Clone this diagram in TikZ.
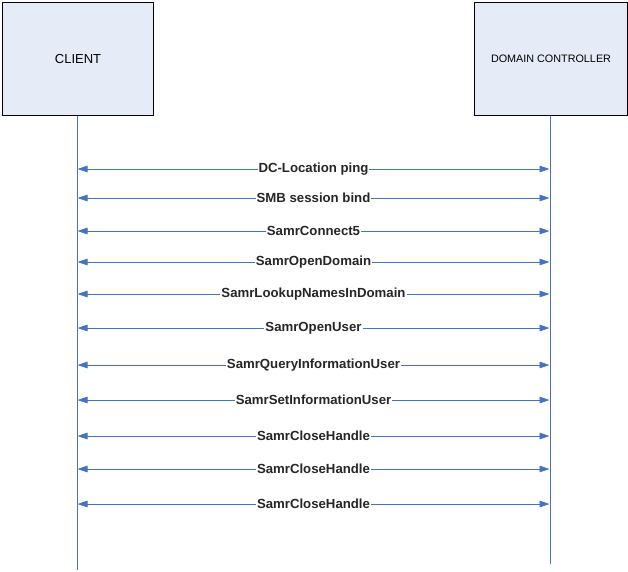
\documentclass[tikz,border=0pt]{standalone}
\usepackage{fontspec}
\setmainfont{Liberation Sans}
\usetikzlibrary{arrows.meta}
\definecolor{boxfill}{HTML}{E6ECF7}
\definecolor{linecol}{HTML}{4472C4}
\tikzset{
  actor/.style={draw=black, line width=1pt, fill=boxfill, minimum width=151pt, minimum height=113pt, inner sep=0pt, anchor=north west},
  life/.style={draw=linecol, line width=0.9pt},
  msg/.style={draw=linecol, line width=0.9pt, {Triangle[length=10pt,width=6.5pt]}-{Triangle[length=10pt,width=6.5pt]}, shorten <=0.5pt, shorten >=0.5pt},
  lbl/.style={fill=white, inner sep=1pt, font=\fontsize{13.2}{15}\selectfont\bfseries, text=black!85}
}
\begin{document}
\begin{tikzpicture}[x=1pt,y=-1pt]
\useasboundingbox (0,0) rectangle (628,571);
\coordinate (ltop) at (77,107);
\coordinate (lbot) at (77,570);
\coordinate (rtop) at (550,115);
\coordinate (rbot) at (550,564);
\draw[life] (ltop) -- (lbot);
\node[actor, font=\fontsize{13}{15}\selectfont] (client) at (2,2) {CLIENT};
\draw[life] (rtop) -- (rbot);
\node[actor, minimum width=153pt, font=\fontsize{10.8}{12}\selectfont] (dc) at (474,2) {DOMAIN CONTROLLER};
\foreach \y/\t [count=\i] in {169/DC-Location ping, 198/SMB session bind, 231/SamrConnect5, 262/SamrOpenDomain, 294/SamrLookupNamesInDomain, 328/SamrOpenUser, 365/SamrQueryInformationUser, 400/SamrSetInformationUser, 436/SamrCloseHandle, 469/SamrCloseHandle, 504/SamrCloseHandle}{
  \coordinate (a\i) at (77,\y);
  \coordinate (b\i) at (550,\y);
  \draw[msg] (a\i) -- node[lbl] {\t} (b\i);
}
\end{tikzpicture}
\end{document}
